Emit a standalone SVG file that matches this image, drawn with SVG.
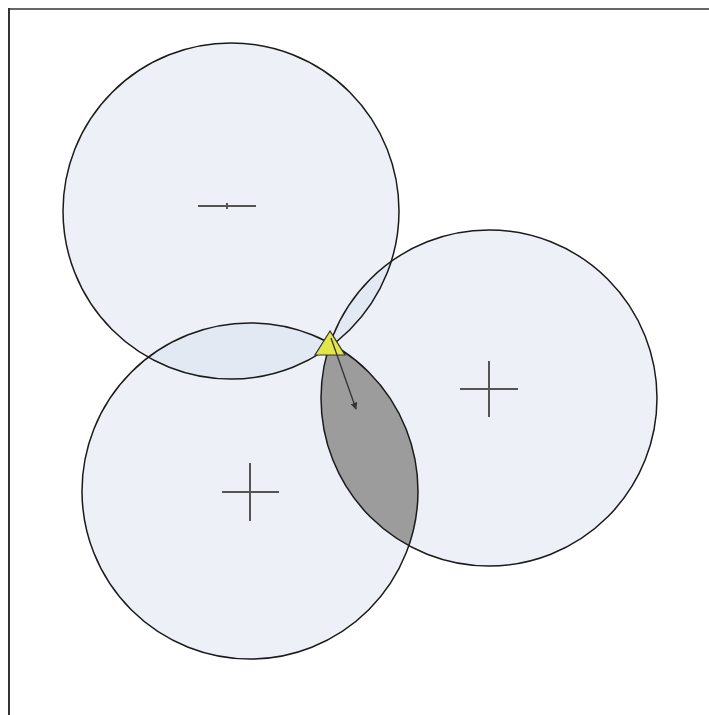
<svg xmlns="http://www.w3.org/2000/svg" width="709" height="715" viewBox="0 0 709 715">
<style>
.fill{fill:#d6dfee;fill-opacity:0.45;stroke:none}
.ring{fill:none;stroke:#1a1a1a;stroke-width:1.5}
.mark{stroke:#555;stroke-width:2;fill:none}
</style>
<defs>
<marker id="ah" viewBox="0 0 10 10" refX="9" refY="5" markerWidth="7" markerHeight="7" orient="auto" markerUnits="userSpaceOnUse">
<path d="M0,0 L10,5 L0,10 z" fill="#333"/>
</marker>
</defs>
<rect x="0" y="0" width="709" height="715" fill="#fff"/>
<line x1="9" y1="9" x2="709" y2="9" stroke="#666" stroke-width="2"/>
<line x1="9" y1="8" x2="9" y2="715" stroke="#333" stroke-width="2"/>
<g id="fills">
<circle class="fill" cx="231" cy="211" r="168"/>
<circle class="fill" cx="489" cy="398" r="168"/>
<circle class="fill" cx="250" cy="491" r="168"/>
</g>
<path id="lens" d="M330.2,343.4 A168,168 0 0 0 408.8,545.6 A168,168 0 0 0 330.2,343.4 Z" fill="#9c9c9c"/>
<g id="node-top">
<circle class="ring" cx="231" cy="211" r="168"/>
<line class="mark" x1="198" y1="206" x2="256" y2="206"/>
<line class="mark" x1="227" y1="203" x2="227" y2="209"/>
</g>
<g id="node-right">
<circle class="ring" cx="489" cy="398" r="168"/>
<line class="mark" x1="460" y1="389" x2="518" y2="389"/>
<line class="mark" x1="489" y1="361" x2="489" y2="417"/>
</g>
<g id="node-bottom">
<circle class="ring" cx="250" cy="491" r="168"/>
<line class="mark" x1="222" y1="492" x2="279" y2="492"/>
<line class="mark" x1="250" y1="463" x2="250" y2="521"/>
</g>
<g id="node-triangle">
<polygon points="330,331 315,355 345,355" fill="#e3e64b" stroke="#333" stroke-width="1.2"/>
</g>
<g id="connectors">
<line x1="331" y1="338" x2="356" y2="409" stroke="#333" stroke-width="1.3" marker-end="url(#ah)"/>
</g>
</svg>
